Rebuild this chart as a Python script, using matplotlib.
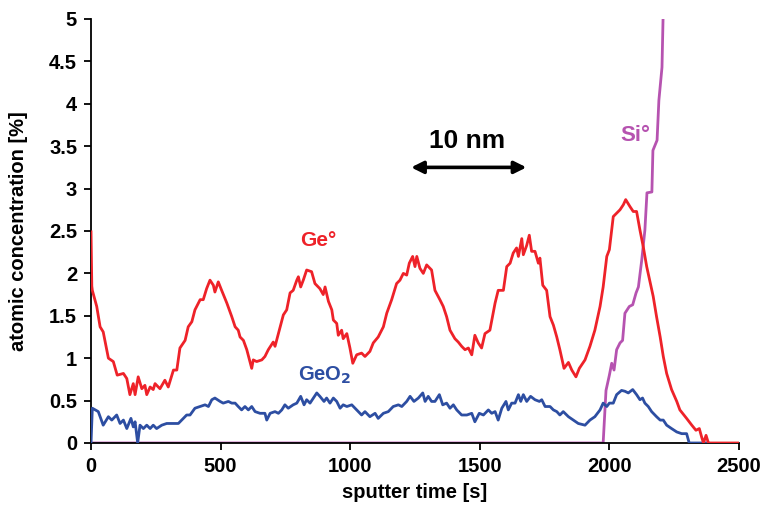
#!/usr/bin/env python3
"""Depth profile: atomic concentration vs sputter time (Ge°, GeO2, Si°)."""

import matplotlib

matplotlib.use("Agg")
import matplotlib.pyplot as plt

plt.rcParams["font.family"] = ["Liberation Sans", "DejaVu Sans"]
plt.rcParams["font.weight"] = "bold"

# Ge° (red) trace
ge_t = [0, 3, 5, 22, 35, 47, 67, 86, 101, 125, 138, 150, 163, 170, 182, 196, 208,
        215, 228, 240, 247, 266, 285, 298, 318, 331, 343, 363, 375, 389, 401, 421,
        433, 446, 459, 472, 478, 491, 504, 524, 543, 556, 568, 575, 588, 601, 620,
        626, 639, 659, 671, 684, 703, 710, 723, 742, 755, 768, 780, 794, 800, 809,
        819, 832, 851, 864, 883, 896, 903, 916, 929, 935, 948, 954, 967, 973, 987,
        999, 1010, 1025, 1044, 1057, 1076, 1089, 1108, 1128, 1141, 1160, 1179,
        1192, 1205, 1218, 1228, 1241, 1250, 1257, 1269, 1282, 1295, 1314, 1327,
        1346, 1359, 1372, 1385, 1404, 1417, 1430, 1443, 1456, 1469, 1481, 1494,
        1507, 1520, 1539, 1559, 1571, 1591, 1604, 1617, 1629, 1642, 1649, 1662,
        1668, 1681, 1691, 1700, 1713, 1726, 1732, 1743, 1758, 1771, 1784, 1797,
        1809, 1825, 1842, 1855, 1871, 1884, 1906, 1925, 1944, 1964, 1976, 1990,
        2000, 2015, 2028, 2041, 2054, 2063, 2079, 2092, 2105, 2118, 2131, 2144,
        2157, 2169, 2182, 2196, 2208, 2221, 2240, 2260, 2272, 2298, 2318, 2334,
        2347, 2356, 2363, 2373, 2382, 2500]
ge_v = [2.49, 1.85, 1.80, 1.61, 1.37, 1.31, 1.00, 0.96, 0.80, 0.82, 0.76, 0.57,
        0.70, 0.57, 0.78, 0.64, 0.68, 0.57, 0.66, 0.63, 0.70, 0.64, 0.74, 0.66,
        0.86, 0.86, 1.12, 1.21, 1.37, 1.43, 1.57, 1.69, 1.69, 1.82, 1.92, 1.86,
        1.78, 1.90, 1.80, 1.65, 1.49, 1.37, 1.33, 1.25, 1.21, 1.10, 0.88, 0.98,
        0.96, 0.98, 1.02, 1.10, 1.19, 1.14, 1.29, 1.51, 1.57, 1.77, 1.80, 1.92,
        1.96, 1.84, 1.92, 2.04, 2.02, 1.88, 1.82, 1.75, 1.84, 1.67, 1.57, 1.45,
        1.41, 1.27, 1.33, 1.23, 1.29, 1.12, 0.94, 1.04, 1.06, 1.02, 1.08, 1.18,
        1.25, 1.37, 1.53, 1.69, 1.88, 1.92, 2.00, 1.98, 2.12, 2.20, 2.08, 2.20,
        2.06, 2.00, 2.10, 2.04, 1.80, 1.69, 1.61, 1.49, 1.33, 1.23, 1.19, 1.14,
        1.10, 1.12, 1.04, 1.27, 1.18, 1.12, 1.29, 1.33, 1.65, 1.80, 1.80, 2.08,
        2.12, 2.24, 2.30, 2.20, 2.41, 2.22, 2.33, 2.45, 2.26, 2.26, 2.12, 2.18,
        1.86, 1.80, 1.49, 1.39, 1.25, 1.10, 0.88, 0.95, 0.86, 0.78, 0.88, 0.98,
        1.14, 1.33, 1.61, 1.84, 2.20, 2.28, 2.67, 2.71, 2.75, 2.81, 2.87, 2.79,
        2.73, 2.73, 2.51, 2.31, 2.08, 1.90, 1.73, 1.49, 1.25, 1.02, 0.82, 0.63,
        0.49, 0.39, 0.29, 0.21, 0.15, 0.17, 0.07, 0.0, 0.09, 0.0, 0.0]

# GeO2 (blue) trace
geo2_t = [0, 5, 28, 47, 67, 80, 99, 112, 125, 138, 154, 163, 170, 180, 189, 202,
          215, 228, 240, 253, 273, 292, 311, 337, 356, 369, 382, 401, 421, 440,
          453, 466, 478, 498, 510, 530, 543, 556, 568, 581, 594, 607, 620, 633,
          652, 671, 678, 691, 710, 723, 736, 748, 761, 780, 794, 809, 822, 832,
          845, 858, 871, 883, 899, 909, 922, 935, 948, 961, 973, 987, 1006, 1025,
          1044, 1057, 1076, 1096, 1108, 1128, 1147, 1166, 1186, 1199, 1218, 1231,
          1246, 1263, 1280, 1289, 1301, 1314, 1327, 1344, 1357, 1372, 1385, 1398,
          1411, 1430, 1450, 1469, 1481, 1498, 1514, 1533, 1546, 1559, 1571, 1585,
          1601, 1610, 1623, 1636, 1649, 1658, 1668, 1681, 1696, 1713, 1730, 1739,
          1752, 1771, 1784, 1797, 1809, 1822, 1842, 1861, 1880, 1906, 1925, 1944,
          1964, 1976, 1990, 2000, 2015, 2028, 2047, 2060, 2073, 2090, 2105, 2118,
          2128, 2137, 2150, 2163, 2182, 2196, 2208, 2221, 2240, 2260, 2279, 2298,
          2308, 2380]
geo2_v = [0.0, 0.41, 0.37, 0.21, 0.31, 0.27, 0.33, 0.23, 0.27, 0.17, 0.29, 0.19,
          0.25, 0.0, 0.21, 0.17, 0.21, 0.17, 0.21, 0.17, 0.21, 0.23, 0.23, 0.23,
          0.29, 0.33, 0.33, 0.41, 0.43, 0.45, 0.43, 0.51, 0.53, 0.49, 0.47, 0.49,
          0.47, 0.47, 0.43, 0.39, 0.43, 0.39, 0.43, 0.37, 0.35, 0.35, 0.27, 0.35,
          0.37, 0.35, 0.39, 0.45, 0.41, 0.45, 0.47, 0.55, 0.45, 0.51, 0.47, 0.53,
          0.59, 0.55, 0.49, 0.53, 0.47, 0.53, 0.49, 0.41, 0.45, 0.43, 0.45, 0.39,
          0.33, 0.37, 0.31, 0.35, 0.29, 0.35, 0.37, 0.43, 0.45, 0.43, 0.49, 0.55,
          0.49, 0.53, 0.59, 0.49, 0.55, 0.49, 0.49, 0.57, 0.45, 0.47, 0.41, 0.45,
          0.39, 0.33, 0.33, 0.35, 0.25, 0.35, 0.33, 0.39, 0.35, 0.37, 0.27, 0.41,
          0.49, 0.39, 0.47, 0.47, 0.57, 0.49, 0.57, 0.49, 0.55, 0.51, 0.49, 0.51,
          0.43, 0.43, 0.39, 0.37, 0.33, 0.37, 0.31, 0.27, 0.23, 0.21, 0.27, 0.31,
          0.39, 0.47, 0.43, 0.47, 0.47, 0.57, 0.62, 0.61, 0.59, 0.63, 0.57, 0.51,
          0.53, 0.47, 0.43, 0.37, 0.31, 0.27, 0.27, 0.21, 0.17, 0.13, 0.11, 0.11,
          0.0, 0.0]

# Si° (magenta) trace
si_t = [0, 1976, 1987, 2000, 2009, 2018, 2028, 2041, 2051, 2060, 2077, 2090, 2103,
        2112, 2125, 2137, 2145, 2164, 2168, 2184, 2191, 2203, 2207, 2212]
si_v = [0.0, 0.0, 0.62, 0.80, 0.94, 0.86, 1.10, 1.18, 1.21, 1.53, 1.61, 1.63, 1.77,
        1.84, 2.16, 2.51, 2.95, 2.96, 3.45, 3.57, 4.04, 4.43, 4.99, 5.4]

RED = "#ee2229"
BLUE = "#2d4ea2"
MAGENTA = "#b653b0"


def main() -> None:
    fig = plt.figure(figsize=(7.63, 5.09), dpi=100)
    ax = fig.add_axes([0.1193, 0.1297, 0.8492, 0.8330])

    ax.plot(si_t, si_v, color=MAGENTA, lw=2.0, zorder=2)
    ax.plot(geo2_t, geo2_v, color=BLUE, lw=2.0, zorder=3)
    ax.plot(ge_t, ge_v, color=RED, lw=2.0, zorder=4)

    ax.set_xlim(0, 2500)
    ax.set_ylim(0, 5)
    ax.set_xticks([0, 500, 1000, 1500, 2000, 2500])
    ax.set_yticks([0, 0.5, 1, 1.5, 2, 2.5, 3, 3.5, 4, 4.5, 5])
    ax.set_yticklabels(["0", "0.5", "1", "1.5", "2", "2.5", "3", "3.5", "4", "4.5", "5"])
    ax.tick_params(direction="out", length=5, width=1.3, labelsize=14.5, pad=5)
    for side in ("top", "right"):
        ax.spines[side].set_visible(False)
    for side in ("left", "bottom"):
        ax.spines[side].set_linewidth(1.3)

    ax.set_xlabel("sputter time [s]", fontsize=14.5, fontweight="bold", labelpad=5)
    ax.set_ylabel("atomic concentration [%]", fontsize=14.5, fontweight="bold", labelpad=15)

    ax.text(876, 2.39, "Ge°", color=RED, fontsize=15, fontweight="bold",
            ha="center", va="center")
    ax.text(903, 0.80, "GeO$_\\mathbf{2}$", color=BLUE, fontsize=14.5,
            fontweight="bold", ha="center", va="center")
    ax.text(2099, 3.63, "Si°", color=MAGENTA, fontsize=16, fontweight="bold",
            ha="center", va="center")
    ax.text(1451, 3.56, "10 nm", color="black", fontsize=19, fontweight="bold",
            ha="center", va="center")
    ax.annotate("", xy=(1235, 3.25), xytext=(1680, 3.25),
                arrowprops=dict(arrowstyle="<|-|>", color="black", lw=2.6,
                                mutation_scale=18, shrinkA=0, shrinkB=0))

    fig.savefig("out.png", dpi=100)
    plt.close(fig)


if __name__ == "__main__":
    main()
